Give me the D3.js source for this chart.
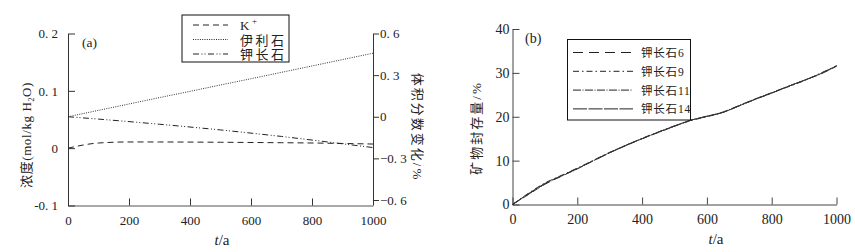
<!DOCTYPE html>
<html>
<head>
<meta charset="utf-8">
<script src="https://cdn.jsdelivr.net/npm/d3@7"></script>
<style>
body { margin: 0; background: #fff; }
svg { display: block; }
text { font-family: "Liberation Serif", "Noto Sans CJK SC", serif; fill: #222; }
</style>
</head>
<body>
<script>
// ---- data: panel (a)
const tA = [0, 100, 200, 300, 400, 500, 600, 700, 800, 900, 1000]
const kPlus = [0, 0.009, 0.0108, 0.0108, 0.0106, 0.0103, 0.0099, 0.0095, 0.009, 0.0082, 0.0072]
const illite = [0, 0.046, 0.092, 0.138, 0.183, 0.229, 0.274, 0.32, 0.366, 0.412, 0.458]
const kfeld = [0, -0.017, -0.035, -0.054, -0.074, -0.095, -0.118, -0.142, -0.168, -0.195, -0.222]
const leftTicks = [0.2, 0.1, 0, -0.1]
const leftTickLabels = ["0. 2", "0. 1", "0", "-0. 1"]
const rightTicks = [0.6, 0.3, 0, -0.3, -0.6]
const rightTickLabels = ["0. 6", "0. 3", "0", "\u22120. 3", "\u22120. 6"]
const xTicks = [0, 200, 400, 600, 800, 1000]

// ---- data: panel (b)
const tB = [0, 50, 100, 150, 200, 250, 300, 350, 400, 450, 500, 550, 600, 650, 700, 750, 800, 850, 900, 950, 1000]
const kf6 = [0, 2.4, 4.7, 6.5, 8.2, 10.0, 11.8, 13.5, 15.0, 16.5, 17.9, 19.2, 20.1, 21.0, 22.5, 24.0, 25.4, 26.9, 28.3, 29.8, 31.6]
const kf9 = [0, 2.6, 4.9, 6.6, 8.3, 10.1, 11.9, 13.5, 15.1, 16.5, 17.9, 19.1, 20.0, 21.0, 22.5, 24.0, 25.4, 26.8, 28.2, 29.9, 31.6]
const kf11 = [0, 2.3, 4.6, 6.4, 8.1, 10.0, 11.8, 13.4, 15.0, 16.4, 17.8, 19.2, 20.1, 21.1, 22.6, 24.1, 25.5, 26.9, 28.3, 29.7, 31.5]
const kf14 = [0, 2.5, 4.8, 6.5, 8.2, 10.0, 11.8, 13.5, 15.0, 16.5, 17.9, 19.2, 20.1, 21.0, 22.5, 24.0, 25.4, 26.9, 28.3, 29.8, 31.6]
const yTicksB = [0, 10, 20, 30, 40]

const svg = d3.select("body").append("svg")
  .attr("width", 855)
  .attr("height", 252)

const axisColor = "#333"

// ================= panel (a) =================
const xa = d3.scaleLinear().domain([0, 1000]).range([68, 373])
const ya = d3.scaleLinear().domain([-0.1, 0.2]).range([205.5, 33.5])
const yr = d3.scaleLinear().domain([-0.6, 0.6]).range([200, 33.5])

const ga = svg.append("g")

// axes
ga.append("g")
  .attr("transform", "translate(0,205.5)")
  .call(d3.axisBottom(xa).tickValues(xTicks).tickSize(-7).tickSizeOuter(0).tickPadding(10).tickFormat(d3.format("d")))
  .call(g => g.select(".domain").attr("stroke", "#555"))
ga.append("g")
  .attr("transform", "translate(68,0)")
  .call(d3.axisLeft(ya).tickValues(leftTicks).tickSize(-7).tickSizeOuter(0).tickPadding(10).tickFormat((d, i) => leftTickLabels[i]))
  .call(g => g.select(".domain").attr("stroke", axisColor))
ga.append("g")
  .attr("transform", "translate(373,0)")
  .call(d3.axisRight(yr).tickValues(rightTicks).tickSize(6).tickSizeOuter(0).tickPadding(1).tickFormat((d, i) => rightTickLabels[i]))
  .call(g => g.select(".domain").attr("stroke", axisColor))
ga.selectAll(".tick line").attr("stroke", axisColor)
ga.selectAll(".tick text").attr("font-size", 13).attr("fill", "#222")

// lines
const lineK = d3.line().x((d, i) => xa(tA[i])).y(d => ya(d)).curve(d3.curveMonotoneX)
const lineR = d3.line().x((d, i) => xa(tA[i])).y(d => yr(d)).curve(d3.curveMonotoneX)

ga.append("path").attr("d", lineK(kPlus)).attr("fill", "none").attr("stroke", "#222").attr("stroke-width", 1).attr("stroke-dasharray", "6,4")
ga.append("path").attr("d", lineR(illite)).attr("fill", "none").attr("stroke", "#333").attr("stroke-width", 1).attr("stroke-dasharray", "1,1.3")
ga.append("path").attr("d", lineR(kfeld)).attr("fill", "none").attr("stroke", "#222").attr("stroke-width", 1).attr("stroke-dasharray", "6,2.5,1,2,1,2.5")

// legend (a)
const legA = [
  {name: "K", sup: "+", dash: "6,4"},
  {name: "伊利石", dash: "1,1.3"},
  {name: "钾长石", dash: "6,2.5,1,2,1,2.5"},
]
ga.append("rect").attr("x", 182).attr("y", 15).attr("width", 107).attr("height", 47)
  .attr("fill", "#fff").attr("stroke", "#111").attr("stroke-width", 1)
legA.forEach((d, i) => {
  const y = 25 + i * 14.5
  ga.append("line").attr("x1", 193).attr("x2", 228).attr("y1", y).attr("y2", y)
    .attr("stroke", "#222").attr("stroke-dasharray", d.dash)
  const t = ga.append("text").attr("x", 240).attr("y", y + 5).attr("font-size", 13)
    .attr("letter-spacing", 2.5).attr("fill", "#444").text(d.name)
  if (d.sup) t.append("tspan").attr("dy", -6).attr("font-size", 9).text(d.sup)
})

ga.append("text").attr("x", 82).attr("y", 47).attr("font-size", 13.5).text("(a)")

// axis titles (a)
ga.append("text").attr("transform", "translate(31,135) rotate(-90)")
  .attr("text-anchor", "middle").attr("font-size", 13).attr("fill", "#444")
  .attr("letter-spacing", 0.6)
  .html('浓度(mol/kg H<tspan font-size="8" dy="3">2</tspan><tspan dy="-3">O)</tspan>')
ga.append("text").attr("transform", "translate(413,127) rotate(90)")
  .attr("text-anchor", "middle").attr("font-size", 13).attr("fill", "#444")
  .attr("letter-spacing", 2)
  .text("体积分数变化/%")
ga.append("text").attr("x", 222).attr("y", 245).attr("text-anchor", "middle").attr("font-size", 15)
  .html('<tspan font-style="italic">t</tspan>/a')

// ================= panel (b) =================
const xb = d3.scaleLinear().domain([0, 1000]).range([512.5, 836.5])
const yb = d3.scaleLinear().domain([0, 40]).range([204.5, 29])

const gb = svg.append("g")
gb.append("g")
  .attr("transform", "translate(0,204.5)")
  .call(d3.axisBottom(xb).tickValues(xTicks).tickSize(-7).tickSizeOuter(0).tickPadding(10).tickFormat(d3.format("d")))
gb.append("g")
  .attr("transform", "translate(512.5,0)")
  .call(d3.axisLeft(yb).tickValues(yTicksB).tickSize(-7).tickSizeOuter(0).tickPadding(3))
gb.selectAll(".domain").attr("stroke", "#444")
gb.selectAll(".tick line").attr("stroke", "#444")
gb.selectAll(".tick text").attr("font-size", 14).attr("fill", "#222")

const lineB = d3.line().x((d, i) => xb(tB[i])).y(d => yb(d)).curve(d3.curveMonotoneX)
const seriesB = [
  {name: "钾长石6", values: kf6, dash: "10,6"},
  {name: "钾长石9", values: kf9, dash: "6,3,1.5,3"},
  {name: "钾长石11", values: kf11, dash: "8,1.5,1,1.5"},
  {name: "钾长石14", values: kf14, dash: "14,1.5"},
]
seriesB.forEach(s => {
  gb.append("path").attr("d", lineB(s.values)).attr("fill", "none").attr("stroke", "#333")
    .attr("stroke-width", 1).attr("stroke-dasharray", s.dash)
})

gb.append("rect").attr("x", 567.5).attr("y", 39.5).attr("width", 123).attr("height", 80.5)
  .attr("fill", "#fff").attr("stroke", "#111").attr("stroke-width", 1)
seriesB.forEach((s, i) => {
  const y = 52.5 + i * 18.8
  gb.append("line").attr("x1", 573).attr("x2", 633).attr("y1", y).attr("y2", y)
    .attr("stroke", "#222").attr("stroke-dasharray", s.dash)
  gb.append("text").attr("x", 641).attr("y", y + 4.5).attr("font-size", 11.5)
    .attr("letter-spacing", 0.8).attr("fill", "#444").text(s.name)
})

gb.append("text").attr("x", 525).attr("y", 43).attr("font-size", 14).text("(b)")
gb.append("text").attr("transform", "translate(481,128) rotate(-90)")
  .attr("text-anchor", "middle").attr("font-size", 13).attr("fill", "#444")
  .attr("letter-spacing", 2)
  .text("矿物封存量/%")
gb.append("text").attr("x", 716).attr("y", 244).attr("text-anchor", "middle").attr("font-size", 15)
  .html('<tspan font-style="italic">t</tspan>/a')
</script>
</body>
</html>
